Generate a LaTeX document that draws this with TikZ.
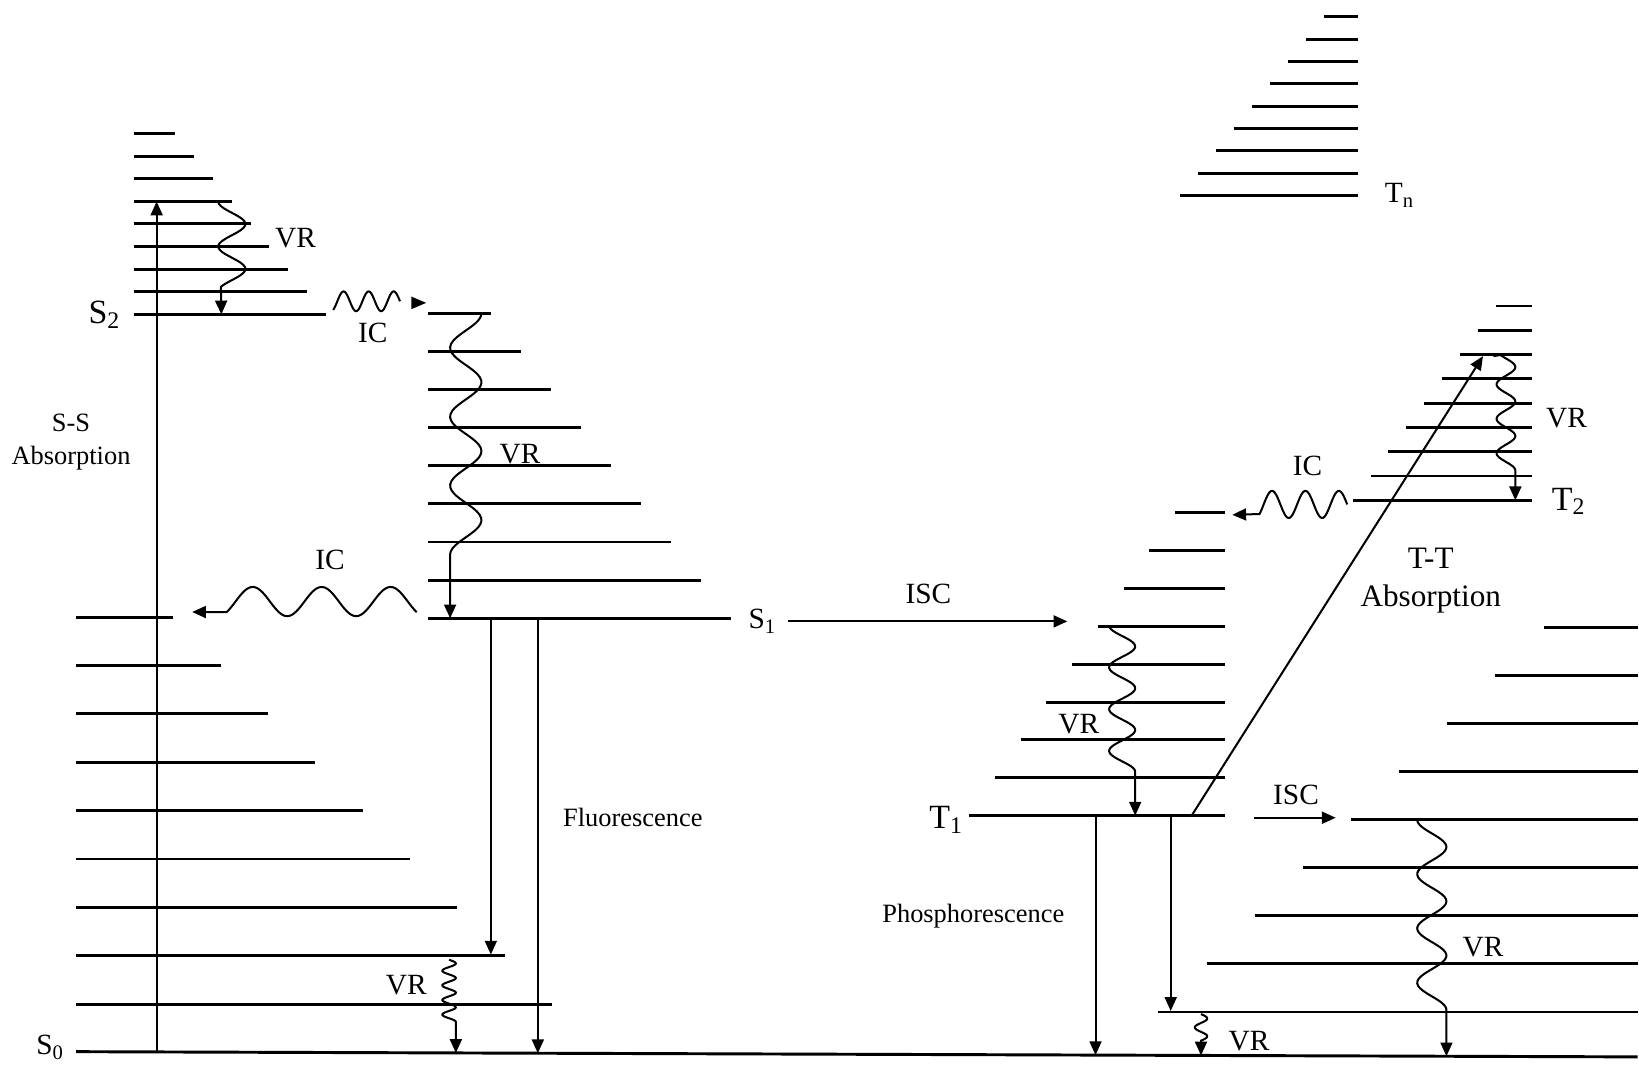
\documentclass[tikz,border=0pt]{standalone}
\usepackage{fontspec}
\setmainfont{Liberation Serif}
\usetikzlibrary{arrows.meta,positioning}

\tikzset{
  vib/.style={line width=1.6pt},
  wig/.style={line width=1.1pt},
  arr/.style={line width=1.1pt,-{Triangle[length=7.5pt,width=6.5pt]}},
  lab/.style={font=\fontsize{16}{18}\selectfont},
  txt/.style={font=\fontsize{14.4}{18}\selectfont,align=center},
  big/.style={font=\fontsize{17}{20.5}\selectfont,align=center},
  statelab/.style={font=\fontsize{18.5}{20}\selectfont},
}

\begin{document}
\begin{tikzpicture}[x=0.02cm,y=-0.02cm]
    \path[fill=white] (0,0) rectangle (1568,1019);
    % S2 vibrational levels
    \foreach \i in {0,...,8}
      \draw[vib] (128,{128+21.6*\i}) -- ({168+18*\i},{128+21.6*\i});
    % S1 vibrational levels
    \foreach \i in {0,...,8}
      \draw[vib] (410,{300+36.5*\i}) -- ({470+28.75*\i},{300+36.5*\i});
    % S0 vibrational levels
    \foreach \i in {0,...,8}
      \draw[vib] (73,{591+46.3*\i}) -- ({166+45.3*\i},{591+46.3*\i});
    \draw[vib] (73,1007) -- (1568,1012);
    % T1 vibrational levels
    \foreach \i in {0,...,8}
      \draw[vib] ({1125-24.6*\i},{491+36.25*\i}) -- (1173,{491+36.25*\i});
    % Tn and T2 vibrational levels
    \foreach \i in {0,...,8}
      \draw[vib] ({1268-17.25*\i},{16+21.4*\i}) -- (1300,{16+21.4*\i});
    \foreach \i in {0,...,8}
      \draw[vib] ({1432-17.1*\i},{293+23.25*\i}) -- (1467,{293+23.25*\i});
    % S0 levels reached from T1
    \foreach \i in {0,...,8}
      \draw[vib] ({1478-46.1*\i},{601+46*\i}) -- (1568,{601+46*\i});

    % Absorption
    \draw[arr] (150,1007.5) -- (150,193);
    \draw[arr] (1141,781) -- (1420,341);
    % Fluorescence and phosphorescence
    \draw[arr] (470,592) -- (470,914);
    \draw[arr] (515,592) -- (515,1008.5);
    \draw[arr] (1049,781) -- (1049,1010.3);
    \draw[arr] (1121,781) -- (1121,968);
    % Intersystem crossing
    \draw[arr] (755,595) -- (1022,595);
    \draw[arr] (1201,783) -- (1279,783);

    % Vibrational relaxation
    \draw[arr] plot[variable=\t,domain=0:1.9,samples=40,smooth]
      ({222-13*cos(360*\t)},{193+43*\t}) -- (212,301);
    \draw[arr] plot[variable=\t,domain=0:3.5,samples=80,smooth]
      ({446+15*cos(360*\t)},{300+66*\t}) -- (431,592);
    \draw[arr] plot[variable=\t,domain=0:4.25,samples=90,smooth]
      ({430+6.5*sin(360*\t)},{919+14*\t}) -- (436.5,1008.2);
    \draw[arr] plot[variable=\t,domain=0:3.5,samples=80,smooth]
      ({1074.5-12.5*cos(360*\t)},{599+40*\t}) -- (1087,781);
    \draw[arr] (1430,341) -- plot[variable=\t,domain=0.15:3.5,samples=80,smooth]
      ({1442-9*cos(360*\t)},{335+33*\t}) -- (1451,479);
    \draw[arr] plot[variable=\t,domain=0:3.5,samples=80,smooth]
      ({1371-14*cos(360*\t)},{785+52*\t}) -- (1385,1011.4);
    \draw[arr] plot[variable=\t,domain=0:1.5,samples=40,smooth]
      ({1150+6*sin(360*\t)},{971+17*\t}) -- (1150,1010.6);

    % Internal conversion
    \draw[wig] plot[variable=\t,domain=-0.417:2.25,samples=60,smooth]
      ({329+24*\t},{288.5-9.5*cos(360*\t)});
    \fill (394,284) -- (408,290) -- (394,296) -- cycle;
    \draw[arr] plot[variable=\t,domain=0:2.758,samples=80,smooth]
      ({399-66*\t},{576-14*cos(360*\t-136.4)}) -- (184,586);
    \draw[arr] plot[variable=\t,domain=0:2.625,samples=70,smooth]
      ({1290-32*\t},{483-13*sin(360*\t)}) -- (1180,493);

    % State labels
    \node[statelab] (S2) at (100,301) {S\textsubscript{2}};
    \node[lab] (S1) at (730,595) {S\textsubscript{1}};
    \node[lab] (S0) at (48,1003) {S\textsubscript{0}};
    \node[statelab] (T1) at (906,785) {T\textsubscript{1}};
    \node[statelab] (T2) at (1502,480) {T\textsubscript{2}};
    \node[lab] (Tn) at (1340,187) {T\textsubscript{n}};
    % Process labels
    \node[lab] (vrS2) at (283,228) {VR};
    \node[lab] (icS2) at (357,319) {IC};
    \node[txt] (absS) at (68,423) {S-S\\Absorption};
    \node[lab] (vrS1) at (498,435) {VR};
    \node[lab] (icS1) at (316,536) {IC};
    \node[lab] (iscS) at (889,569) {ISC};
    \node[txt] (fluo) at (606,783) {Fluorescence};
    \node[lab] (vrS0) at (389,943) {VR};
    \node[lab] (vrT1) at (1033,693) {VR};
    \node[txt] (phos) at (932,877) {Phosphorescence};
    \node[lab] (iscT) at (1241,761) {ISC};
    \node[lab] (vrR) at (1420,907) {VR};
    \node[lab] (vrB) at (1196,997) {VR};
    \node[lab] (icT2) at (1252,446) {IC};
    \node[big] (absT) at (1370,556) {T-T\\Absorption};
    \node[lab] (vrT2) at (1500,400) {VR};
\end{tikzpicture}
\end{document}
